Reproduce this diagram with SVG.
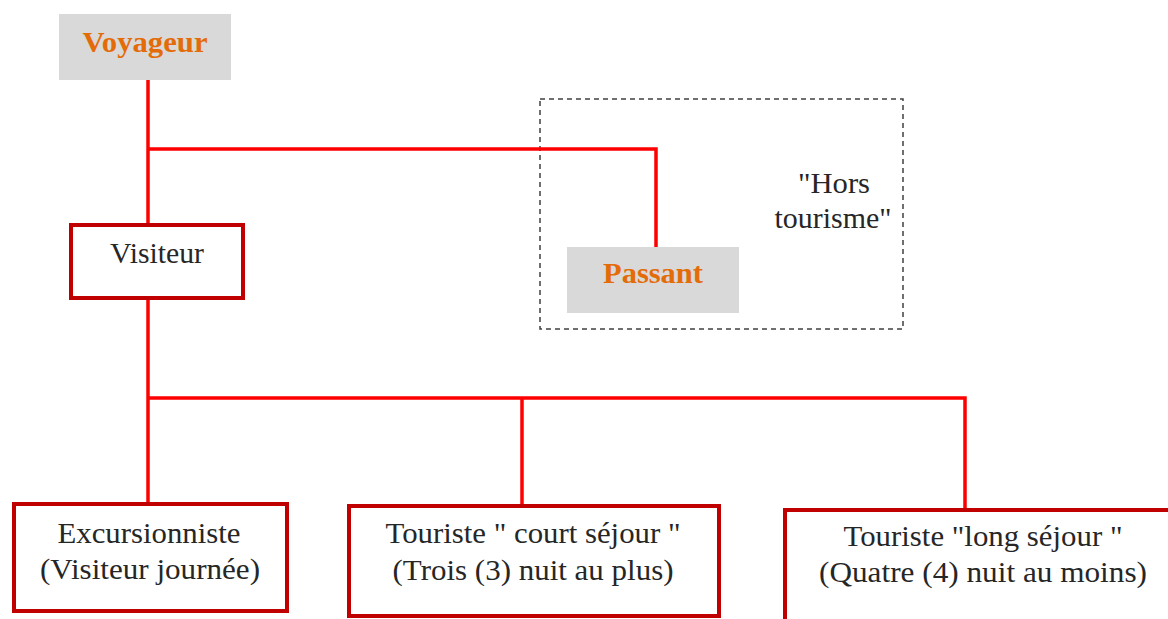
<svg xmlns="http://www.w3.org/2000/svg" width="1168" height="619" viewBox="0 0 1168 619">
<style>
.gray{fill:#d9d9d9;}
.box{fill:#fff;stroke:#c00000;stroke-width:4;}
.lt{font-family:"Liberation Serif","Times New Roman",serif;font-size:29px;fill:#262626;text-anchor:middle;}
.or{font-family:"Liberation Serif","Times New Roman",serif;font-size:29px;font-weight:bold;fill:#e36c09;text-anchor:middle;}
.con{fill:none;stroke:#ff0000;stroke-width:3.5;}
</style>
<rect width="1168" height="619" fill="#fff"/>
<g id="hors">
<rect x="540" y="99" width="363" height="230" fill="none" stroke="#404040" stroke-width="1.5" stroke-dasharray="5,4"/>
<text class="lt" x="834" y="193" textLength="72" lengthAdjust="spacingAndGlyphs">"Hors</text>
<text class="lt" x="833" y="228" textLength="117" lengthAdjust="spacingAndGlyphs">tourisme"</text>
</g>
<g id="connectors">
<path class="con" d="M148,80 V226"/>
<path class="con" d="M148,149 H656 V250"/>
<path class="con" d="M148,298 V504"/>
<path class="con" d="M148,398 H965 V508"/>
<path class="con" d="M522,398 V506"/>
</g>
<g id="voyageur">
<rect class="gray" x="59" y="14" width="172" height="66"/>
<text class="or" x="145" y="52" textLength="125" lengthAdjust="spacingAndGlyphs">Voyageur</text>
</g>
<g id="passant">
<rect class="gray" x="567" y="247" width="172" height="66"/>
<text class="or" x="653" y="283" textLength="100" lengthAdjust="spacingAndGlyphs">Passant</text>
</g>
<g id="visiteur">
<rect class="box" x="71" y="225" width="172" height="73"/>
<text class="lt" x="157" y="263" textLength="94" lengthAdjust="spacingAndGlyphs">Visiteur</text>
</g>
<g id="excursionniste">
<rect class="box" x="14" y="504" width="273" height="107"/>
<text class="lt" x="149" y="543" textLength="183" lengthAdjust="spacingAndGlyphs">Excursionniste</text>
<text class="lt" x="150" y="579" textLength="220" lengthAdjust="spacingAndGlyphs">(Visiteur journée)</text>
</g>
<g id="court">
<rect class="box" x="349" y="506" width="370" height="110"/>
<text class="lt" x="533" y="543" textLength="295" lengthAdjust="spacingAndGlyphs">Touriste " court séjour "</text>
<text class="lt" x="533" y="580" textLength="281" lengthAdjust="spacingAndGlyphs">(Trois (3) nuit au plus)</text>
</g>
<g id="long">
<rect class="box" x="785" y="510" width="390" height="120"/>
<text class="lt" x="983" y="546" textLength="279" lengthAdjust="spacingAndGlyphs">Touriste "long séjour "</text>
<text class="lt" x="983" y="582" textLength="328" lengthAdjust="spacingAndGlyphs">(Quatre (4) nuit au moins)</text>
</g>
</svg>
